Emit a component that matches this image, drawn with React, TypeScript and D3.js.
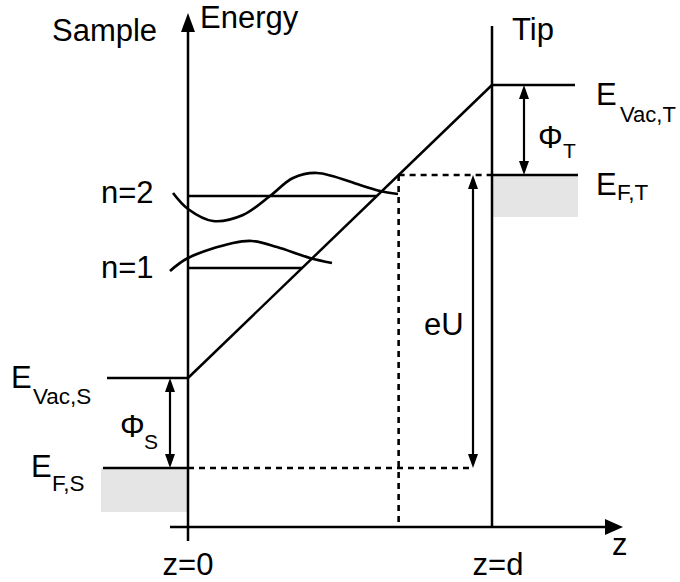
import React from "react";
import * as d3 from "d3";

// ---- Data (diagram units: 1 unit ≈ 10 px) ----
const TIP_Z = 30.4; // z = d
const AXIS_Z = [-1.8, 43.5]; // z-axis extent
const AXIS_E = [-1.4, 51.4]; // energy-axis extent
const TIP_TOP = 50.1;
const sampleLevels = [5.9, 14.9]; // E_F,S , E_Vac,S
const tipLevels = [35.2, 44.2]; // E_F,T , E_Vac,T
const stateLevels = [25.9, 33.1]; // n=1 , n=2
const stateLabels = ["n=1", "n=2"];
const sampleLevelStart = [-8.5, -8.1];
const tipLevelEnd = [39.0, 38.7];
const sampleBandBottom = 1.5;
const tipBandBottom = 31.0;
const phiSZ = -1.8;
const phiTZ = 33.6;
const eUZ = 28.5;
const zTickLabels = ["z=0", "z=d"];

const psi1: [number, number][] = [
  [-1.8, 25.6], [0, 26.9], [4.5, 28.4], [6.4, 28.6], [8.9, 28.0], [12.2, 26.9], [14.4, 26.4],
];
const psi2: [number, number][] = [
  [-1.5, 33.4], [0, 31.8], [2.5, 30.6], [5.5, 31.2], [8.2, 33.1], [10.5, 34.9],
  [12.9, 35.4], [17.2, 34.2], [19.2, 33.6], [21.0, 33.3],
];

const W = 680;
const H = 582;
const FONT = "'Liberation Sans', Arial, Helvetica, sans-serif";

export default function App() {
  const x = d3.scaleLinear().domain([0, TIP_Z]).range([188, 492]);
  const y = d3.scaleLinear().domain([0, 51.4]).range([527, 13]);

  const [eFS, eVacS] = sampleLevels;
  const [eFT, eVacT] = tipLevels;
  const slope = (eVacT - eVacS) / TIP_Z;
  const zAt = (e: number) => (e - eVacS) / slope;

  const curve = d3
    .line<[number, number]>()
    .x((d) => x(d[0]))
    .y((d) => y(d[1]))
    .curve(d3.curveCatmullRom.alpha(0.5));

  const sw = 2.5;
  const stroke = "#000";

  const head = (px: number, py: number, dir: "up" | "down" | "right", len: number, w: number) => {
    let pts: number[][];
    if (dir === "up") pts = [[px, py], [px - w / 2, py + len], [px + w / 2, py + len]];
    else if (dir === "down") pts = [[px, py], [px - w / 2, py - len], [px + w / 2, py - len]];
    else pts = [[px, py], [px - len, py - w / 2], [px - len, py + w / 2]];
    return <polygon points={pts.map((p) => p.join(",")).join(" ")} fill="#000" />;
  };

  const dblArrow = (z: number, eTop: number, eBot: number, key: string) => {
    const px = x(z);
    const y1 = y(eTop);
    const y2 = y(eBot);
    const len = 14;
    const w = 10;
    return (
      <g key={key}>
        <line x1={px} x2={px} y1={y1 + len - 1} y2={y2 - len + 1} stroke={stroke} strokeWidth={2.2} />
        {head(px, y1, "up", len, w)}
        {head(px, y2, "down", len, w)}
      </g>
    );
  };

  const cross = zAt(eFT);

  return (
    <svg
      width={W}
      height={H}
      style={{ position: "absolute", left: 0, top: 0, background: "#fff" }}
      fontFamily={FONT}
    >
      {/* bands */}
      <rect x={x(sampleLevelStart[0]) - 2} y={y(eFS)} width={x(0) - x(sampleLevelStart[0]) + 2} height={y(sampleBandBottom) - y(eFS)} fill="#e5e5e5" />
      <rect x={x(TIP_Z)} y={y(eFT)} width={x(tipLevelEnd[0]) - x(TIP_Z)} height={y(tipBandBottom) - y(eFT)} fill="#e5e5e5" />

      {/* axes */}
      <line x1={x(0)} x2={x(0)} y1={y(AXIS_E[0])} y2={y(AXIS_E[1]) + 15} stroke={stroke} strokeWidth={sw} />
      {head(x(0), y(AXIS_E[1]), "up", 19, 14)}
      <line x1={x(AXIS_Z[0])} x2={x(AXIS_Z[1]) - 15} y1={y(0)} y2={y(0)} stroke={stroke} strokeWidth={sw} />
      {head(x(AXIS_Z[1]), y(0), "right", 18, 16)}
      <line x1={x(TIP_Z)} x2={x(TIP_Z)} y1={y(TIP_TOP)} y2={y(0)} stroke={stroke} strokeWidth={sw} />

      {/* levels */}
      <line x1={x(sampleLevelStart[0])} x2={x(0)} y1={y(eFS)} y2={y(eFS)} stroke={stroke} strokeWidth={sw} />
      <line x1={x(sampleLevelStart[1])} x2={x(0)} y1={y(eVacS)} y2={y(eVacS)} stroke={stroke} strokeWidth={sw} />
      <line x1={x(TIP_Z)} x2={x(tipLevelEnd[0])} y1={y(eFT)} y2={y(eFT)} stroke={stroke} strokeWidth={sw} />
      <line x1={x(TIP_Z)} x2={x(tipLevelEnd[1])} y1={y(eVacT)} y2={y(eVacT)} stroke={stroke} strokeWidth={sw} />

      {/* vacuum potential */}
      <line x1={x(0)} y1={y(eVacS)} x2={x(TIP_Z)} y2={y(eVacT)} stroke={stroke} strokeWidth={sw} />

      {/* bound states */}
      {stateLevels.map((e, i) => (
        <line key={"st" + i} x1={x(0)} x2={x(zAt(e))} y1={y(e)} y2={y(e)} stroke={stroke} strokeWidth={sw} />
      ))}
      <path d={curve(psi1) || ""} fill="none" stroke={stroke} strokeWidth={2.7} />
      <path d={curve(psi2) || ""} fill="none" stroke={stroke} strokeWidth={2.7} />

      {/* dashed guides */}
      <line x1={x(0)} x2={x(eUZ)} y1={y(eFS)} y2={y(eFS)} stroke={stroke} strokeWidth={2.6} strokeDasharray="6,5" />
      <line x1={x(cross)} x2={x(TIP_Z)} y1={y(eFT)} y2={y(eFT)} stroke={stroke} strokeWidth={2.6} strokeDasharray="6,5" />
      <line x1={x(cross)} x2={x(cross)} y1={y(eFT)} y2={y(0)} stroke={stroke} strokeWidth={2.6} strokeDasharray="6,5" />

      {/* arrows */}
      {dblArrow(phiSZ, eVacS, eFS, "phiS")}
      {dblArrow(phiTZ, eVacT, eFT, "phiT")}
      {dblArrow(eUZ, eFT, eFS, "eU")}

      {/* text */}
      <g fontSize={31} fill="#000">
        <text x={52} y={41}>Sample</text>
        <text x={200} y={28}>Energy</text>
        <text x={512} y={40}>Tip</text>
        <text x={101} y={y(stateLevels[1]) + 7}>{stateLabels[1]}</text>
        <text x={101} y={y(stateLevels[0]) + 10}>{stateLabels[0]}</text>
        <text x={424} y={335}>eU</text>
        <text x={x(0)} y={575} textAnchor="middle">{zTickLabels[0]}</text>
        <text x={x(TIP_Z) + 6} y={575} textAnchor="middle">{zTickLabels[1]}</text>
        <text x={612} y={555}>z</text>

        <text x={11} y={388}>E</text>
        <text x={33} y={404} fontSize={22.5}>Vac,S</text>
        <text x={31} y={477}>E</text>
        <text x={52} y={491} fontSize={22.5}>F,S</text>

        <text x={596} y={105}>E</text>
        <text x={620} y={122} fontSize={22}>Vac,T</text>
        <text x={596} y={195}>E</text>
        <text x={617} y={200} fontSize={22.5}>F,T</text>

        <text x={120} y={437}>Φ</text>
        <text x={144} y={449} fontSize={21}>S</text>
        <text x={538} y={148}>Φ</text>
        <text x={563} y={158} fontSize={21}>T</text>
      </g>
    </svg>
  );
}
